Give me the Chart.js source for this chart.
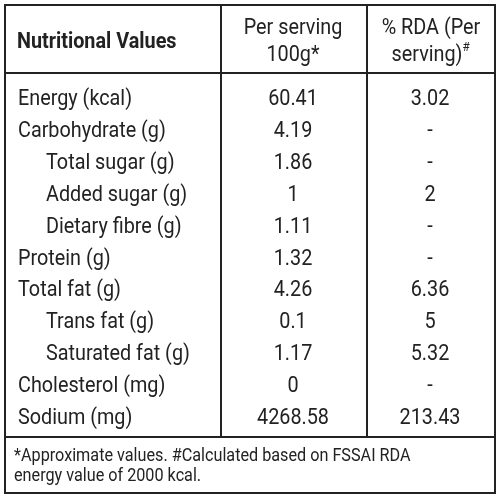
<!DOCTYPE html>
<html><head><meta charset="utf-8">
<script src="https://cdn.jsdelivr.net/npm/chart.js"></script>
<style>html,body{margin:0;padding:0;background:#fff}#wrap{width:500px;height:500px}</style>
</head><body><div id="wrap"><canvas id="c"></canvas></div>
<script>
// Dados da tabela
const nutrients = ['Energy (kcal)', 'Carbohydrate (g)', 'Total sugar (g)', 'Added sugar (g)', 'Dietary fibre (g)', 'Protein (g)', 'Total fat (g)', 'Trans fat (g)', 'Saturated fat (g)', 'Cholesterol (mg)', 'Sodium (mg)'];
const indented = [false, false, true, true, true, false, false, true, true, false, false];
const perServing = ['60.41', '4.19', '1.86', '1', '1.11', '1.32', '4.26', '0.1', '1.17', '0', '4268.58'];
const rda = ['3.02', '-', '-', '2', '-', '-', '6.36', '5', '5.32', '-', '213.43'];
const footnote = ['*Approximate values. #Calculated based on FSSAI RDA', 'energy value of 2000 kcal.'];

const FONT = "'Liberation Sans Narrow', 'Roboto', sans-serif";

// Texto levemente condensado
function txt(ctx, s, x, y, align) {
    ctx.save();
    ctx.translate(x, y);
    ctx.scale(0.9, 1);
    ctx.textAlign = align;
    ctx.fillText(s, 0, 0);
    ctx.restore();
}

// Plugin que desenha a tabela no canvas
const tablePlugin = {
    id: 'table',
    afterDraw(chart) {
        const ctx = chart.ctx;
        const y = chart.scales.y;
        ctx.save();
        ctx.strokeStyle = '#222';
        ctx.fillStyle = '#222';
        ctx.lineWidth = 2;
        ctx.strokeRect(5, 5, 490, 488);
        ctx.beginPath();
        ctx.moveTo(5, 73); ctx.lineTo(495, 73);
        ctx.moveTo(5, 437); ctx.lineTo(495, 437);
        ctx.moveTo(221, 5); ctx.lineTo(221, 437);
        ctx.moveTo(367, 5); ctx.lineTo(367, 437);
        ctx.stroke();

        ctx.textBaseline = 'middle';
        ctx.font = 'bold 22px ' + FONT;
        txt(ctx, 'Nutritional Values', 17, 42, 'left');
        ctx.font = '22px ' + FONT;
        txt(ctx, 'Per serving', 293, 28, 'center');
        txt(ctx, '100g*', 293, 55, 'center');
        txt(ctx, '% RDA (Per', 431, 28, 'center');
        txt(ctx, 'serving)', 427, 55, 'center');
        ctx.font = '13px ' + FONT;
        txt(ctx, '#', 466, 48, 'center');

        ctx.font = '22px ' + FONT;
        nutrients.forEach((n, i) => {
            const py = y.getPixelForValue(i);
            txt(ctx, n, indented[i] ? 46 : 18, py, 'left');
            txt(ctx, perServing[i], 293, py, 'center');
            txt(ctx, rda[i], 430, py, 'center');
        });
        ctx.font = '18px ' + FONT;
        txt(ctx, footnote[0], 14, 456, 'left');
        txt(ctx, footnote[1], 14, 476, 'left');
        ctx.restore();
    }
};

new Chart(document.getElementById('c').getContext('2d'), {
    type: 'bar',
    data: { labels: nutrients, datasets: [{ data: nutrients.map(() => null) }] },
    options: {
        responsive: true,
        maintainAspectRatio: false,
        animation: false,
        indexAxis: 'y',
        layout: { padding: { top: 84, bottom: 66 } },
        plugins: { legend: { display: false }, tooltip: { enabled: false } },
        scales: { x: { display: false }, y: { display: false } }
    },
    plugins: [tablePlugin]
});
</script></body></html>
